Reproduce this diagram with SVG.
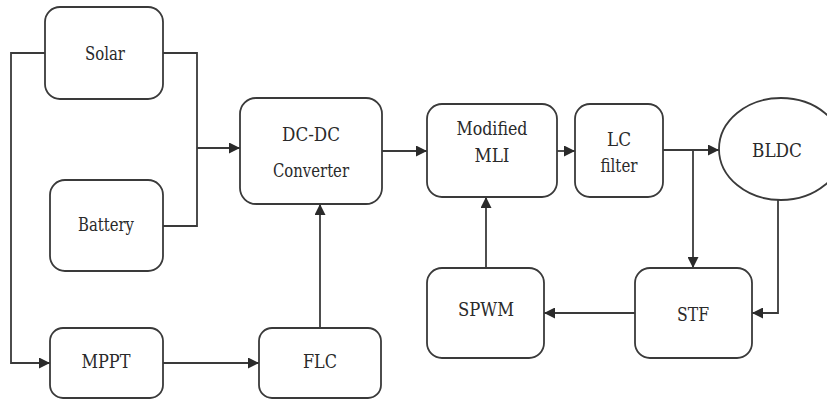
<svg xmlns="http://www.w3.org/2000/svg" width="827" height="401" viewBox="0 0 827 401">
  <style>
    .box { fill: #ffffff; stroke: #3a3a3a; stroke-width: 1.8; }
    .wire { fill: none; stroke: #3a3a3a; stroke-width: 1.8; }
    .lbl { font-family: 'DejaVu Serif', 'Liberation Serif', serif; font-size: 18px; fill: #2a2a2a; text-anchor: middle; }
  </style>
  <defs>
    <marker id="arrow" viewBox="0 0 10 10" refX="10" refY="5" markerWidth="11" markerHeight="11" markerUnits="userSpaceOnUse" orient="auto">
      <path d="M0,0 L10,5 L0,10 Z" fill="#2a2a2a"/>
    </marker>
  </defs>
  <rect width="827" height="401" fill="#ffffff"/>

  <g id="connectors">
    <path class="wire" d="M45,53 H11 V363 H50" marker-end="url(#arrow)"/>
    <path class="wire" d="M163,53 H197 V226 H163"/>
    <path class="wire" d="M197,148 H240" marker-end="url(#arrow)"/>
    <path class="wire" d="M163,363 H259" marker-end="url(#arrow)"/>
    <path class="wire" d="M320,328 V204" marker-end="url(#arrow)"/>
    <path class="wire" d="M382,151 H427" marker-end="url(#arrow)"/>
    <path class="wire" d="M557,151 H575" marker-end="url(#arrow)"/>
    <path class="wire" d="M663,150 H719" marker-end="url(#arrow)"/>
    <path class="wire" d="M693,150 V268" marker-end="url(#arrow)"/>
    <path class="wire" d="M778,199 V313 H752" marker-end="url(#arrow)"/>
    <path class="wire" d="M635,313 H544" marker-end="url(#arrow)"/>
    <path class="wire" d="M486,268 V197" marker-end="url(#arrow)"/>
  </g>

  <g id="solar">
    <rect class="box" x="45" y="7" width="118" height="92" rx="15"/>
    <text class="lbl" x="105" y="60" textLength="40" lengthAdjust="spacingAndGlyphs">Solar</text>
  </g>
  <g id="battery">
    <rect class="box" x="50" y="180" width="113" height="91" rx="15"/>
    <text class="lbl" x="106" y="231" textLength="56" lengthAdjust="spacingAndGlyphs">Battery</text>
  </g>
  <g id="mppt">
    <rect class="box" x="50" y="328" width="113" height="70" rx="13"/>
    <text class="lbl" x="106" y="368" textLength="49" lengthAdjust="spacingAndGlyphs">MPPT</text>
  </g>
  <g id="dcdc">
    <rect class="box" x="240" y="98" width="142" height="106" rx="16"/>
    <text class="lbl" x="311" y="141" textLength="58" lengthAdjust="spacingAndGlyphs">DC-DC</text>
    <text class="lbl" x="311" y="177" textLength="76" lengthAdjust="spacingAndGlyphs">Converter</text>
  </g>
  <g id="flc">
    <rect class="box" x="259" y="328" width="122" height="70" rx="13"/>
    <text class="lbl" x="320" y="368" textLength="34" lengthAdjust="spacingAndGlyphs">FLC</text>
  </g>
  <g id="mli">
    <rect class="box" x="427" y="104" width="130" height="93" rx="15"/>
    <text class="lbl" x="492" y="135" textLength="71" lengthAdjust="spacingAndGlyphs">Modified</text>
    <text class="lbl" x="492" y="162" textLength="35" lengthAdjust="spacingAndGlyphs">MLI</text>
  </g>
  <g id="lcfilter">
    <rect class="box" x="575" y="104" width="88" height="93" rx="15"/>
    <text class="lbl" x="619" y="146" textLength="24" lengthAdjust="spacingAndGlyphs">LC</text>
    <text class="lbl" x="619" y="172" textLength="37" lengthAdjust="spacingAndGlyphs">filter</text>
  </g>
  <g id="bldc">
    <!-- motor symbol runs past the right edge of the canvas -->
    <ellipse class="box" cx="781" cy="149" rx="62" ry="51"/>
    <text class="lbl" x="777" y="157" textLength="50" lengthAdjust="spacingAndGlyphs">BLDC</text>
  </g>
  <g id="stf">
    <rect class="box" x="635" y="268" width="117" height="90" rx="15"/>
    <text class="lbl" x="693" y="321" textLength="32" lengthAdjust="spacingAndGlyphs">STF</text>
  </g>
  <g id="spwm">
    <rect class="box" x="427" y="268" width="117" height="90" rx="15"/>
    <text class="lbl" x="486" y="316" textLength="56" lengthAdjust="spacingAndGlyphs">SPWM</text>
  </g>
</svg>
